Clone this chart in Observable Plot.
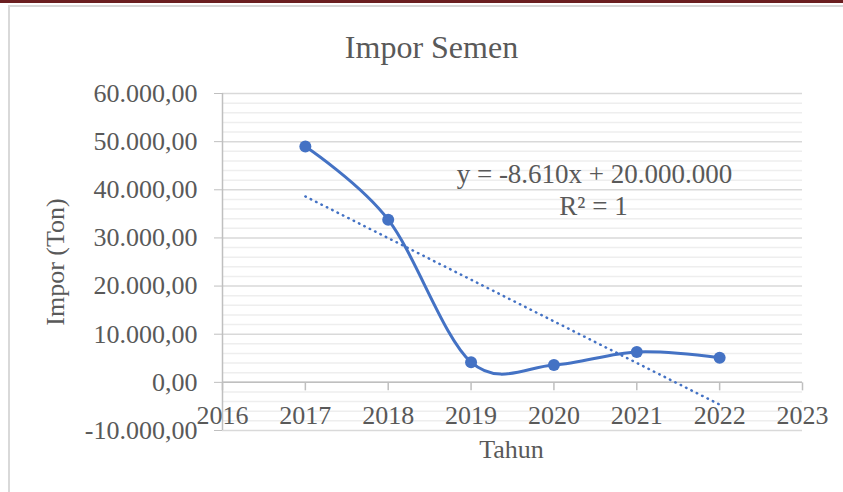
<!DOCTYPE html>
<html>
<head>
<meta charset="utf-8">
<script src="https://cdn.jsdelivr.net/npm/d3@7"></script>
<script src="https://cdn.jsdelivr.net/npm/@observablehq/plot@0.6"></script>
<style>
  html, body { margin: 0; padding: 0; background: #fff; }
  #wrap { position: relative; width: 843px; height: 492px; overflow: hidden; }
  #bar { position: absolute; left: 0; top: 0; width: 843px; height: 3px; background: #6b1f21; }
  #frame { position: absolute; left: 8px; top: 5px; width: 835px; height: 487px; box-sizing: border-box;
           border-top: 2px solid #d9d9d9; border-left: 2px solid #d9d9d9; pointer-events: none; }
  #chart { position: absolute; left: 0; top: 0; }
</style>
</head>
<body>
<div id="wrap">
  <div id="chart"></div>
  <div id="bar"></div>
  <div id="frame"></div>
</div>
<script>
// ---- data ----
const years = [2017, 2018, 2019, 2020, 2021, 2022];
const impor = [49000, 33800, 4200, 3600, 6300, 5100];
const xTicks = [2016, 2017, 2018, 2019, 2020, 2021, 2022, 2023];
const yTicks = [-10000, 0, 10000, 20000, 30000, 40000, 50000, 60000];
const title = "Impor Semen";
const xLabel = "Tahun";
const yLabel = "Impor (Ton)";
const eqText = "y = -8.610x + 20.000.000";
const r2Text = "R² = 1";

const data = years.map((year, i) => ({year, value: impor[i]}));
const minorTicks = d3.range(-10000, 60001, 2000).filter(v => v % 10000 !== 0);

const locale = d3.formatLocale({decimal: ",", thousands: ".", grouping: [3], currency: ["", ""], minus: "-"});
const fmt = locale.format(",.2f");

const blue = "#4472C4";
const textColor = "#595959";
const axisColor = "#bfbfbf";
const font = "'Liberation Serif', 'Times New Roman', serif";

const tickSym = { draw(ctx) { ctx.moveTo(0, 0); ctx.lineTo(0, 8); } };

const chart = Plot.plot({
  width: 843,
  height: 492,
  marginLeft: 222,
  marginRight: 41,
  marginTop: 93,
  marginBottom: 62,
  style: { fontFamily: font, fontSize: "26px", background: "transparent" },
  x: { domain: [2016, 2023], axis: null },
  y: { domain: [-10000, 60000], axis: null },
  marks: [
    Plot.ruleY(minorTicks, { stroke: "#eeeeee", strokeWidth: 1.5 }),
    Plot.ruleY(yTicks, { stroke: "#d9d9d9", strokeWidth: 1.5 }),
    Plot.ruleY([0], { stroke: axisColor, strokeWidth: 1.5 }),
    Plot.ruleX([2016], { stroke: axisColor, strokeWidth: 1.5 }),
    Plot.axisY(yTicks, {
      tickSize: 8, tickPadding: 17, tickFormat: fmt, label: null,
      stroke: axisColor, fill: textColor, fontSize: 26
    }),
    Plot.dot(xTicks, { x: d => d, y: () => 0, symbol: tickSym, stroke: axisColor, strokeWidth: 1.5 }),
    Plot.text(xTicks, { x: d => d, y: () => 0, text: d => String(d), dy: 33, fill: textColor, fontSize: 26 }),
    Plot.linearRegressionY(data, {
      x: "year", y: "value", ci: 0, stroke: blue, strokeWidth: 2.5,
      strokeDasharray: "0.5 5.5", strokeLinecap: "round"
    }),
    Plot.line(data, { x: "year", y: "value", curve: "cardinal", stroke: blue, strokeWidth: 3 }),
    Plot.dot(data, { x: "year", y: "value", r: 6, fill: blue }),
    Plot.text([title], { frameAnchor: "top", lineAnchor: "middle", textAnchor: "middle", dx: -81, dy: -46, fontSize: 32, fill: textColor }),
    Plot.text([eqText], { frameAnchor: "top-left", lineAnchor: "middle", textAnchor: "middle", dx: 372, dy: 81, fontSize: 27, fill: textColor }),
    Plot.text([r2Text], { frameAnchor: "top-left", lineAnchor: "middle", textAnchor: "middle", dx: 371, dy: 113, fontSize: 27, fill: textColor }),
    Plot.text([xLabel], { frameAnchor: "bottom", lineAnchor: "middle", textAnchor: "middle", dx: -1, dy: 19, fontSize: 26, fill: textColor }),
    Plot.text([yLabel], { frameAnchor: "left", lineAnchor: "middle", textAnchor: "middle", dx: -167, rotate: -90, fontSize: 26, fill: textColor })
  ]
});
document.getElementById("chart").appendChild(chart);
</script>
</body>
</html>
